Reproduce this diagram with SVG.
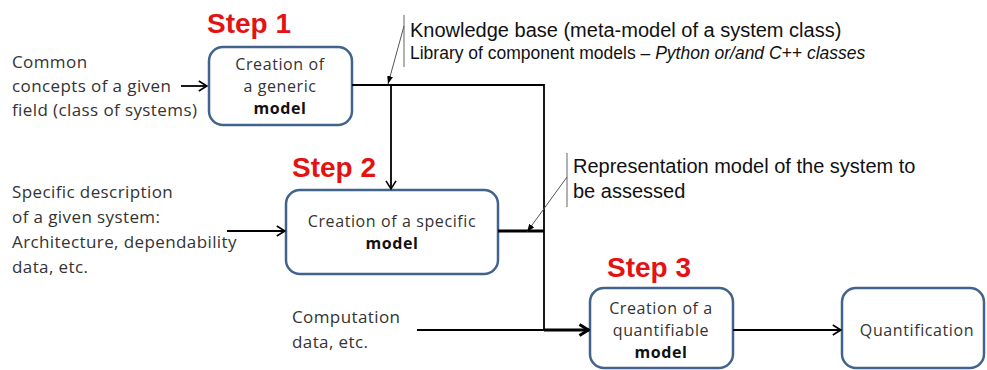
<svg xmlns="http://www.w3.org/2000/svg" width="987" height="370" viewBox="0 0 987 370">
  <defs>
    <style>
      .box { fill: #ffffff; stroke: #41648c; stroke-width: 2.5; }
      .btxt { font-family: "Open Sans", "Noto Sans", sans-serif; font-size: 16px; letter-spacing: 0.6px; fill: #333333; text-anchor: middle; }
      .btxt .b { font-weight: bold; fill: #111111; }
      .ltxt { font-family: "Open Sans", "Noto Sans", sans-serif; font-size: 17px; letter-spacing: 0.4px; fill: #333333; }
      .step { font-family: "Liberation Sans", Arial, sans-serif; font-size: 28px; font-weight: bold; fill: #e31313; }
      .note { font-family: "Liberation Sans", Arial, sans-serif; fill: #111111; }
      .wire { fill: none; stroke: #000000; stroke-width: 1.8; }
      .thick { fill: none; stroke: #000000; stroke-width: 3.2; }
      .callout { fill: none; stroke: #555555; stroke-width: 1; }
      .bar { fill: none; stroke: #888888; stroke-width: 1.3; }
    </style>
    <marker id="chev" viewBox="0 0 10 12" refX="9.2" refY="6" markerWidth="10" markerHeight="12" markerUnits="userSpaceOnUse" orient="auto">
      <path d="M1,1 L9,6 L1,11" fill="none" stroke="#000" stroke-width="1.6"/>
    </marker>
    <marker id="chevBold" viewBox="0 0 12 14" refX="11" refY="7" markerWidth="12" markerHeight="14" markerUnits="userSpaceOnUse" orient="auto">
      <path d="M1.5,1.5 L10.5,7 L1.5,12.5" fill="none" stroke="#000" stroke-width="3"/>
    </marker>
    <marker id="tip" viewBox="0 0 8 6" refX="8" refY="3" markerWidth="8" markerHeight="6" markerUnits="userSpaceOnUse" orient="auto">
      <path d="M0,0 L8,3 L0,6 Z" fill="#000"/>
    </marker>
  </defs>

  <!-- step titles -->
  <text class="step" x="207" y="33">Step 1</text>
  <text class="step" x="292" y="177">Step 2</text>
  <text class="step" x="607" y="277">Step 3</text>

  <!-- inputs -->
  <g id="input-common">
    <text class="ltxt" x="12" y="68">Common</text>
    <text class="ltxt" x="12" y="92">concepts of a given</text>
    <text class="ltxt" x="12" y="116">field (class of systems)</text>
  </g>
  <g id="input-specific">
    <text class="ltxt" x="12" y="198">Specific description</text>
    <text class="ltxt" x="12" y="223">of a given system:</text>
    <text class="ltxt" x="12" y="248">Architecture, dependability</text>
    <text class="ltxt" x="12" y="273">data, etc.</text>
  </g>
  <g id="input-computation">
    <text class="ltxt" x="292" y="323">Computation</text>
    <text class="ltxt" x="292" y="348">data, etc.</text>
  </g>

  <!-- process boxes -->
  <g id="generic-model">
    <rect class="box" x="209" y="47" width="143" height="78" rx="14"/>
    <text class="btxt" x="280" y="70">Creation of</text>
    <text class="btxt" x="280" y="92">a generic</text>
    <text class="btxt" x="280" y="114"><tspan class="b">model</tspan></text>
  </g>
  <g id="specific-model">
    <rect class="box" x="286" y="190" width="212" height="84" rx="14"/>
    <text class="btxt" x="392" y="227">Creation of a specific</text>
    <text class="btxt" x="392" y="249"><tspan class="b">model</tspan></text>
  </g>
  <g id="quantifiable-model">
    <rect class="box" x="590" y="288" width="143" height="80" rx="14"/>
    <text class="btxt" x="661" y="314">Creation of a</text>
    <text class="btxt" x="661" y="336">quantifiable</text>
    <text class="btxt" x="661" y="358"><tspan class="b">model</tspan></text>
  </g>
  <g id="quantification">
    <rect class="box" x="842" y="288" width="142" height="80" rx="14"/>
    <text class="btxt" x="917" y="336">Quantification</text>
  </g>

  <!-- annotations -->
  <g id="knowledge-note">
    <line class="bar" x1="404" y1="15" x2="404" y2="67"/>
    <text class="note" x="410" y="37" font-size="20">Knowledge base (meta-model of a system class)</text>
    <text class="note" x="410" y="59" font-size="17.5">Library of component models – <tspan font-style="italic">Python or/and C++ classes</tspan></text>
  </g>
  <g id="representation-note">
    <line class="bar" x1="567" y1="153" x2="567" y2="207"/>
    <text class="note" x="573" y="173" font-size="20">Representation model of the system to</text>
    <text class="note" x="573" y="198" font-size="20">be assessed</text>
  </g>

  <!-- connectors -->
  <g id="connectors">
    <line class="wire" x1="181" y1="86" x2="207" y2="86" marker-end="url(#chev)"/>
    <polyline class="wire" points="352,85 544,85 544,330"/>
    <line class="wire" x1="391" y1="85" x2="391" y2="189" marker-end="url(#chev)"/>
    <line class="wire" x1="227" y1="231" x2="285" y2="231" marker-end="url(#chev)"/>
    <line class="thick" x1="498" y1="231" x2="544" y2="231"/>
    <line class="wire" x1="417" y1="330" x2="544" y2="330"/>
    <line class="thick" x1="544" y1="330" x2="589" y2="330" marker-end="url(#chevBold)"/>
    <line class="wire" x1="733" y1="330" x2="841" y2="330" marker-end="url(#chev)"/>
    <line class="callout" x1="404" y1="26" x2="388" y2="84" marker-end="url(#tip)"/>
    <line class="callout" x1="567" y1="177" x2="527" y2="232" marker-end="url(#tip)"/>
  </g>
</svg>
